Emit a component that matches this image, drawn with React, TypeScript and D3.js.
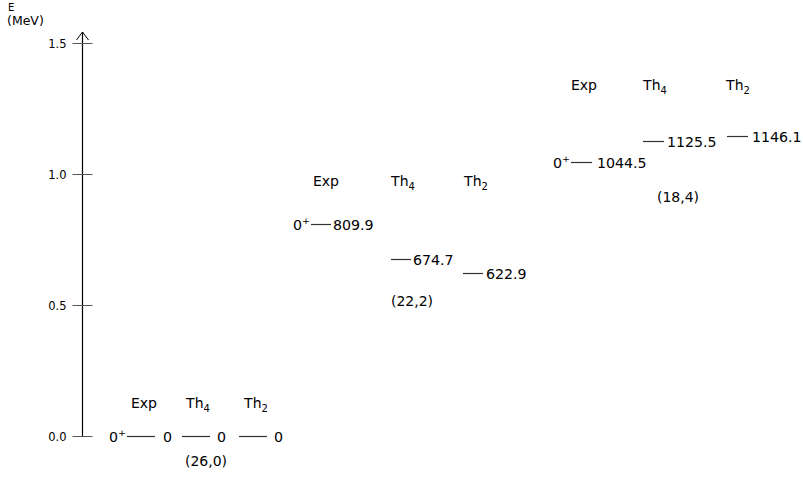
import React from 'react'
import * as d3 from 'd3'

const groups = ['(26,0)', '(22,2)', '(18,4)']
const columns = ['Exp', 'Th4', 'Th2']
const expEnergies = [0, 809.9, 1044.5]
const th4Energies = [0, 674.7, 1125.5]
const th2Energies = [0, 622.9, 1146.1]
const yTicks = [0, 0.5, 1.0, 1.5]

// pixel layout of each group (bar starts, header centres, tag position)
const layout = [
  { cols: [127, 182, 239], len: 28, gaps: [8, 7, 7], heads: [144, 198, 256], headY: 408, tagX: 206, tagY: 466 },
  { cols: [311, 391, 463], len: 20, gaps: [2, 2, 3], heads: [326, 403, 476], headY: 186, tagX: 412, tagY: 306 },
  { cols: [571, 643, 727], len: 21, gaps: [5, 3, 4], heads: [584, 655, 738], headY: 90, tagX: 678, tagY: 202 },
]

const W = 803
const H = 478
const FONT = 'DejaVu Sans, sans-serif'

export default function App() {
  const y = d3.scaleLinear().domain([0, 1.5]).range([436, 43])
  const axisX = 82.5
  const series = [expEnergies, th4Energies, th2Energies]

  return (
    <svg width={W} height={H} style={{ position: 'absolute', left: 0, top: 0 }} fontFamily={FONT}>
      <rect width={W} height={H} fill="#fff" />
      {/* axis */}
      <line x1={axisX} x2={axisX} y1={y(0) + 0.5} y2={y(1.5) - 11} stroke="#000" strokeWidth={1.2} />
      <path
        d={`M${axisX - 6},${y(1.5) - 3} L${axisX},${y(1.5) - 11} L${axisX + 6},${y(1.5) - 3}`}
        fill="none"
        stroke="#000"
        strokeWidth={1}
      />
      {yTicks.map(t => (
        <g key={t}>
          <line x1={axisX - 10} x2={axisX + 10} y1={y(t) + 0.5} y2={y(t) + 0.5} stroke="#555" strokeWidth={1} />
          <text x={axisX - 16} y={y(t) + 4.5} fontSize={11.5} textAnchor="end" fill="#000">
            {d3.format('.1f')(t)}
          </text>
        </g>
      ))}
      <text x={8} y={10.5} fontSize={10} fill="#000">E</text>
      <text x={7} y={24.5} fontSize={12.5} fill="#000">(MeV)</text>

      {groups.map((g, gi) => {
        const L = layout[gi]
        return (
          <g key={g}>
            {columns.map((c, ci) => (
              <text key={c} x={L.heads[ci]} y={L.headY} fontSize={14} textAnchor="middle" fill="#000">
                {c === 'Exp' ? 'Exp' : (
                  <>
                    Th
                    <tspan fontSize={10} dy={4}>{c.slice(2)}</tspan>
                  </>
                )}
              </text>
            ))}
            {series.map((vals, ci) => {
              const e = vals[gi]
              const yy = Math.round(y(e / 1000)) + 0.5
              const x0 = L.cols[ci]
              const x1 = x0 + L.len
              return (
                <g key={ci}>
                  <line x1={x0} x2={x1} y1={yy} y2={yy} stroke="#333" strokeWidth={1.2} />
                  <text x={x1 + L.gaps[ci]} y={yy + 5} fontSize={14.2} fill="#000">
                    {e === 0 ? '0' : e.toFixed(1)}
                  </text>
                  {ci === 0 && (
                    <text x={x0 - 1} y={yy + 5} fontSize={14.2} textAnchor="end" fill="#000">
                      0<tspan fontSize={9.5} dy={-6}>+</tspan>
                    </text>
                  )}
                </g>
              )
            })}
            <text x={L.tagX} y={L.tagY} fontSize={14} textAnchor="middle" fill="#000">{g}</text>
          </g>
        )
      })}
    </svg>
  )
}
